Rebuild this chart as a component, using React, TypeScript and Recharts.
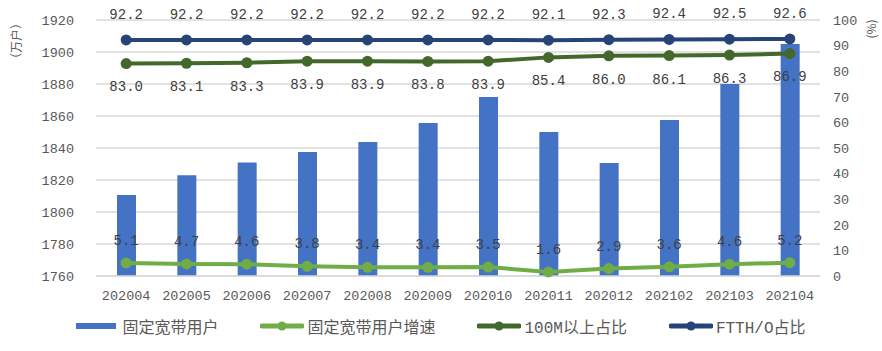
import { ComposedChart, Bar, Line, XAxis, YAxis, CartesianGrid, Legend, LabelList, Label } from "recharts";

const months = ["202004", "202005", "202006", "202007", "202008", "202009", "202010", "202011", "202012", "202102", "202103", "202104"];
const users = [1810.6, 1823, 1831, 1837.5, 1843.8, 1855.6, 1871.9, 1850, 1830.6, 1857.5, 1880, 1905];
const growth = [5.1, 4.7, 4.6, 3.8, 3.4, 3.4, 3.5, 1.6, 2.9, 3.6, 4.6, 5.2];
const over100M = [83.0, 83.1, 83.3, 83.9, 83.9, 83.8, 83.9, 85.4, 86.0, 86.1, 86.3, 86.9];
const ftth = [92.2, 92.2, 92.2, 92.2, 92.2, 92.2, 92.2, 92.1, 92.3, 92.4, 92.5, 92.6];
const leftTicks = [1760, 1780, 1800, 1820, 1840, 1860, 1880, 1900, 1920];
const rightTicks = [0, 10, 20, 30, 40, 50, 60, 70, 80, 90, 100];
const legendOrder = ["users", "growth", "over100M", "ftth"];

const data = months.map((m, i) => ({
  month: m,
  users: users[i],
  growth: growth[i],
  over100M: over100M[i],
  ftth: ftth[i],
}));

const mono = '"Liberation Mono", "Noto Sans CJK SC", monospace';
const cjk = '"Liberation Mono", "Noto Sans CJK SC", sans-serif';
const tickStyle = { fontFamily: mono, fontSize: 13.5, fill: "#595959" };
const labelStyle = { fontFamily: mono, fontSize: 14, fill: "#404040" };

const fmt = (v: any) => Number(v).toFixed(1);

// legend drawn by hand so the order and icon sizes follow the original
const renderLegend = (props: any) => {
  const items = [...(props.payload || [])].sort(
    (a: any, b: any) => legendOrder.indexOf(a.dataKey) - legendOrder.indexOf(b.dataKey)
  );
  return (
    <div
      style={{
        display: "flex",
        justifyContent: "center",
        alignItems: "center",
        height: 40,
        fontFamily: cjk,
        fontSize: 16,
        color: "#595959",
      }}
    >
      {items.map((it: any, i: number) => (
        <div key={i} style={{ display: "flex", alignItems: "center", marginLeft: i ? 42 : 0 }}>
          {it.dataKey === "users" ? (
            <svg width={40} height={12}>
              <rect x={0} y={3} width={40} height={6} fill={it.color} />
            </svg>
          ) : (
            <svg width={44} height={12}>
              <line x1={2} y1={6} x2={42} y2={6} stroke={it.color} strokeWidth={5} strokeLinecap="round" />
              <circle cx={22} cy={6} r={4.5} fill={it.color} />
            </svg>
          )}
          <span style={{ marginLeft: it.dataKey === "users" ? 6 : 3 }}>{it.value}</span>
        </div>
      ))}
    </div>
  );
};

export default function App() {
  return (
    <div style={{ position: "absolute", left: 0, top: 0, background: "#fff" }}>
      <ComposedChart width={882} height={351} data={data} margin={{ top: 20, right: 0, bottom: 5, left: 0 }}>
        <CartesianGrid yAxisId="left" vertical={false} stroke="#D9D9D9" strokeWidth={1.5} />
        <XAxis
          dataKey="month"
          height={30}
          tickLine={false}
          tickMargin={8}
          axisLine={{ stroke: "#D9D9D9", strokeWidth: 1.5 }}
          tick={tickStyle}
          interval={0}
        />
        <YAxis
          yAxisId="left"
          width={96}
          domain={[1760, 1920]}
          ticks={leftTicks}
          axisLine={false}
          tickLine={false}
          tickMargin={16}
          tick={tickStyle}
        >
          <Label
            content={(p: any) => {
              const vb = p.viewBox || { x: 0, y: 20 };
              return (
                <text
                  transform={`translate(${vb.x + 15},${vb.y + 21}) rotate(-90)`}
                  textAnchor="middle"
                  dominantBaseline="central"
                  style={{ fontFamily: '"Noto Sans CJK SC"', fontSize: 12, fill: "#595959" }}
                >
                  （万户）
                </text>
              );
            }}
          />
        </YAxis>
        <YAxis
          yAxisId="right"
          orientation="right"
          width={62}
          domain={[0, 100]}
          ticks={rightTicks}
          axisLine={false}
          tickLine={false}
          tickMargin={7}
          tick={tickStyle}
        >
          <Label
            content={(p: any) => {
              const vb = p.viewBox || { x: 820, y: 20 };
              return (
                <text
                  transform={`translate(${vb.x + 50},${vb.y + 9}) rotate(-90)`}
                  textAnchor="middle"
                  dominantBaseline="central"
                  style={{ fontFamily: '"Noto Sans CJK SC"', fontSize: 12, fill: "#595959" }}
                >
                  (%)
                </text>
              );
            }}
          />
        </YAxis>
        <Legend verticalAlign="bottom" height={40} content={renderLegend} />
        <Bar yAxisId="left" dataKey="users" name="固定宽带用户" fill="#4472C4" barSize={19} isAnimationActive={false} />
        <Line
          yAxisId="right"
          dataKey="growth"
          name="固定宽带用户增速"
          stroke="#70AD47"
          strokeWidth={4}
          dot={{ r: 5.5, fill: "#70AD47", stroke: "#70AD47", strokeWidth: 0 }}
          isAnimationActive={false}
        >
          <LabelList dataKey="growth" position="top" offset={18} formatter={fmt} style={labelStyle} />
        </Line>
        <Line
          yAxisId="right"
          dataKey="over100M"
          name="100M以上占比"
          stroke="#43682B"
          strokeWidth={4}
          dot={{ r: 5.5, fill: "#43682B", stroke: "#43682B", strokeWidth: 0 }}
          isAnimationActive={false}
        >
          <LabelList dataKey="over100M" position="bottom" offset={18} formatter={fmt} style={labelStyle} />
        </Line>
        <Line
          yAxisId="right"
          dataKey="ftth"
          name="FTTH/O占比"
          stroke="#264478"
          strokeWidth={4}
          dot={{ r: 5.5, fill: "#264478", stroke: "#264478", strokeWidth: 0 }}
          isAnimationActive={false}
        >
          <LabelList dataKey="ftth" position="top" offset={21} formatter={fmt} style={labelStyle} />
        </Line>
      </ComposedChart>
    </div>
  );
}
